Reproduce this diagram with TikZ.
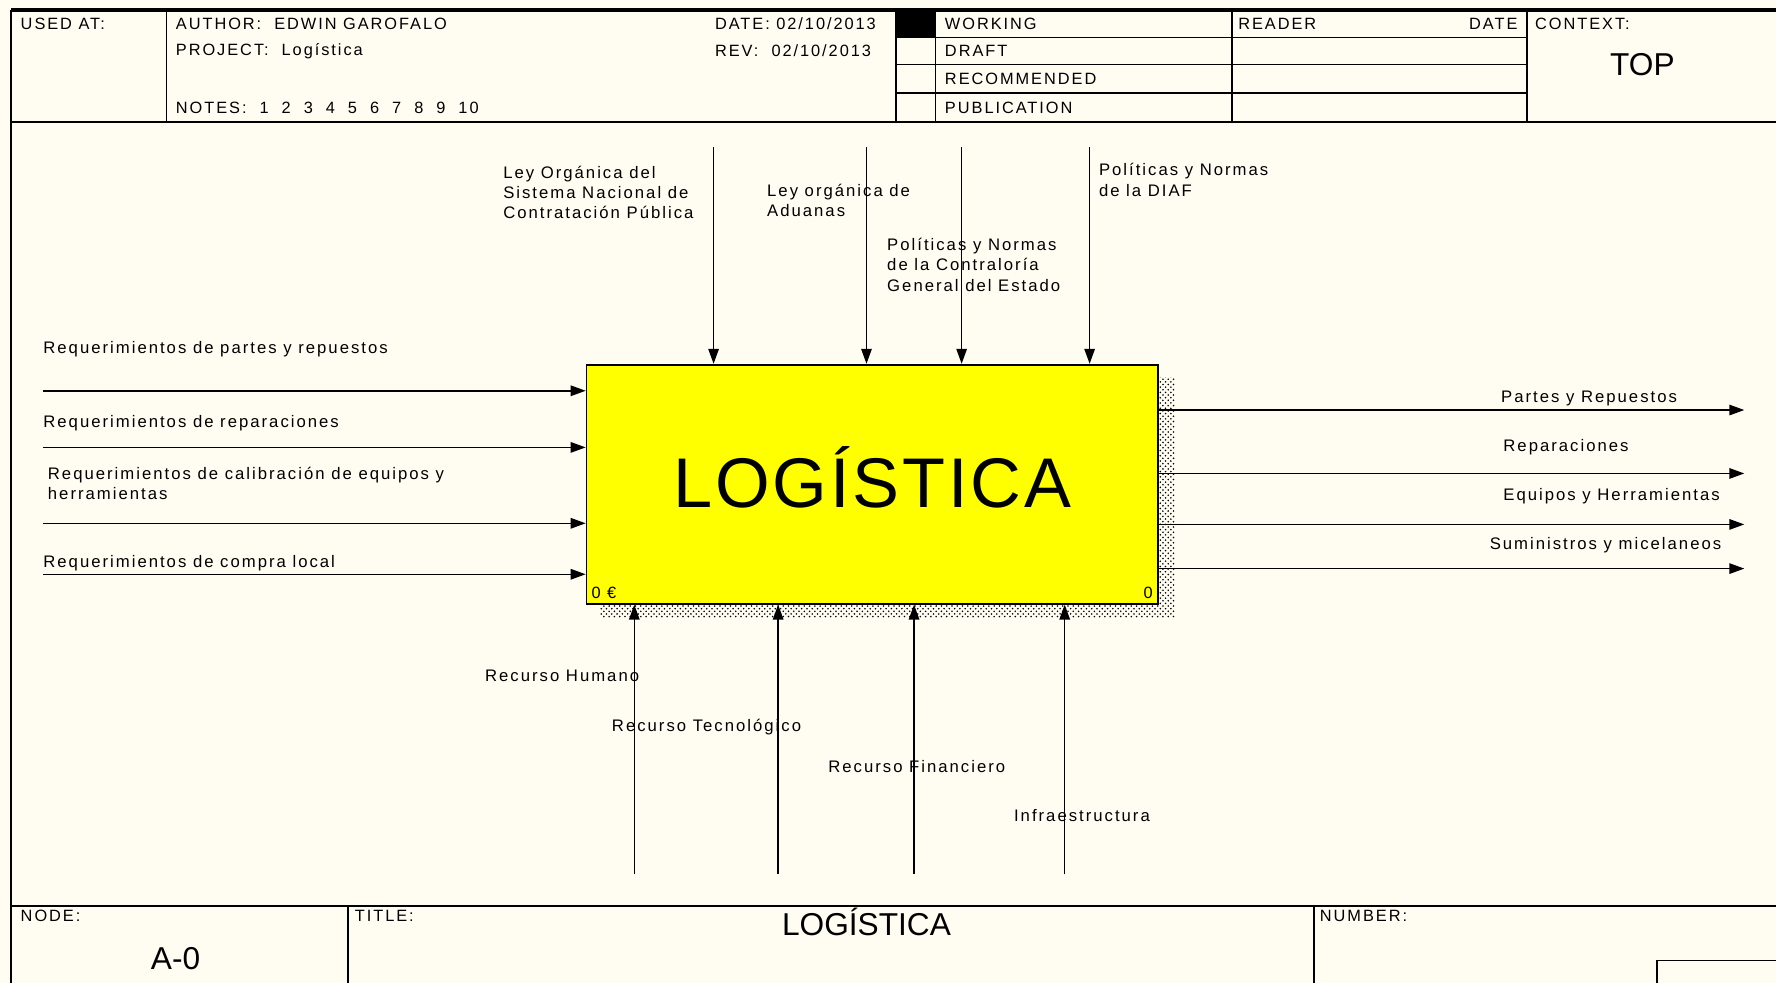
\documentclass[tikz,border=0pt]{standalone}
\usepackage{fontspec}
\setmainfont{Liberation Sans}
\newfontfamily\idefsans{Liberation Sans}[LetterSpace=12]
\newfontfamily\idefbig{Liberation Sans}[LetterSpace=4]
\usetikzlibrary{arrows.meta,patterns}

\definecolor{sheetcream}{RGB}{255,252,242}
\definecolor{boxyellow}{RGB}{255,255,0}

\tikzset{
  flow/.style={line width=0.85pt, -{Triangle[length=3mm,width=2.1mm]}},
  frame/.style={line width=1pt},
  lbl/.style={font=\idefsans\fontsize{9.5}{11.6}\selectfont, inner sep=0pt, align=left},
  hdr/.style={font=\idefsans\fontsize{9.3}{10}\selectfont, inner sep=0pt, anchor=west},
  big/.style={font=\fontsize{18}{20}\selectfont, inner sep=0pt},
  procbox/.style={draw, line width=1pt, fill=boxyellow, minimum width=11.42cm,
    minimum height=4.78cm, font=\idefbig\fontsize{40}{42}\selectfont},
}

\begin{document}
\begin{tikzpicture}[x=0.02265cm, y=-0.02265cm]
\fill[sheetcream] (0,0) rectangle (1568,868);
\useasboundingbox (0,0) rectangle (1568,868);

% sheet frame and header
\draw[frame] (10,868) -- (10,9);
\draw[line width=2pt] (10,9) -- (1568,9);
\draw[frame] (10,108) -- (1568,108);
\foreach \x in {147,791,826,1088,1348}
  \draw[frame] (\x,9) -- (\x,108);
\foreach \y in {33,57,82}
  \draw[frame] (791,\y) -- (1348,\y);
\fill (791,9) rectangle (826,33);

\node[hdr] (usedat) at (18,21) {USED AT:};
\node[hdr] (author) at (155,21) {AUTHOR:\ \ EDWIN GAROFALO};
\node[hdr] (project) at (155,45) {PROJECT:\ \ Logística};
\node[hdr] (notes) at (155,95) {NOTES:\ \ 1\ \ 2\ \ 3\ \ 4\ \ 5\ \ 6\ \ 7\ \ 8\ \ 9\ \ 10};
\node[hdr] (date) at (631,21) {DATE: 02/10/2013};
\node[hdr] (rev) at (631,45) {REV:\ \ 02/10/2013};
\node[hdr] (working) at (834,21) {WORKING};
\node[hdr] (draft) at (834,45) {DRAFT};
\node[hdr] (recommended) at (834,70) {RECOMMENDED};
\node[hdr] (publication) at (834,95) {PUBLICATION};
\node[hdr] (reader) at (1093,21) {READER};
\node[hdr, anchor=east] (readerdate) at (1340,21) {DATE};
\node[hdr] (context) at (1355,21) {CONTEXT:};
\node[big] (context top) at (1450,57) {TOP};

% activity box with its shadow
\fill[pattern=crosshatch dots, pattern color=black] (530,333) rectangle (1037,545);
\node[procbox] (proc) at (770,427.5) {\raisebox{8pt}{LOGÍSTICA}};
\node[hdr, anchor=south west] (cost) at ([shift={(5,-5)}]proc.south west) {0 €};
\node[hdr, anchor=south east] (boxnum) at ([shift={(-5,-5)}]proc.south east) {0};

% inputs
\foreach \n/\y in {1/345, 2/395, 3/462, 4/507}
  \coordinate (in\n) at (38,\y);
\foreach \n in {1,...,4}
  \draw[flow] (in\n) -- (in\n -| proc.west);
\node[lbl, anchor=west] (inlbl1) at (38,308) {Requerimientos de partes y repuestos};
\node[lbl, anchor=west] (inlbl2) at (38,374) {Requerimientos de reparaciones};
\node[lbl, anchor=north west] (inlbl3) at (42,412) {Requerimientos de calibración de equipos y\\herramientas};
\node[lbl, anchor=west] (inlbl4) at (38,497) {Requerimientos de compra local};

% outputs
\foreach \n/\y in {1/362, 2/418, 3/463, 4/502}
  \coordinate (out\n) at (1540,\y);
\foreach \n in {1,...,4}
  \draw[flow] (out\n -| proc.east) -- (out\n);
\node[lbl, anchor=west] (outlbl1) at (1325,352) {Partes y Repuestos};
\node[lbl, anchor=west] (outlbl2) at (1327,395) {Reparaciones};
\node[lbl, anchor=west] (outlbl3) at (1327,438) {Equipos y Herramientas};
\node[lbl, anchor=west] (outlbl4) at (1315,481) {Suministros y micelaneos};

% controls
\foreach \n/\x in {1/630, 2/765, 3/849, 4/962}
  \coordinate (ctl\n) at (\x,130);
\foreach \n in {1,...,4}
  \draw[flow] (ctl\n) -- (ctl\n |- proc.north);
\node[lbl, anchor=north west] (ctllbl1) at (444,146) {Ley Orgánica del\\Sistema Nacional de\\Contratación Pública};
\node[lbl, anchor=north west] (ctllbl2) at (677,162) {Ley orgánica de\\Aduanas};
\node[lbl, anchor=north west] (ctllbl3) at (783,210) {Políticas y Normas\\de la Contraloría\\General del Estado};
\node[lbl, anchor=north west] (ctllbl4) at (970,144) {Políticas y Normas\\de la DIAF};

% mechanisms
\foreach \n/\x in {1/560, 2/687, 3/807, 4/940}
  \coordinate (mech\n) at (\x,772);
\foreach \n in {1,...,4}
  \draw[flow] (mech\n) -- (mech\n |- proc.south);
\node[lbl, anchor=west] (mechlbl1) at (428,597) {Recurso Humano};
\node[lbl, anchor=west] (mechlbl2) at (540,642) {Recurso Tecnológico};
\node[lbl, anchor=west] (mechlbl3) at (731,677) {Recurso Financiero};
\node[lbl, anchor=west] (mechlbl4) at (895,720) {Infraestructura};

% footer
\draw[frame] (10,800) -- (1568,800);
\draw[frame] (307,800) -- (307,868);
\draw[frame] (1160,800) -- (1160,868);
\draw[frame] (1463,868) -- (1463,848) -- (1568,848);
\node[hdr] (nodelbl) at (18,809) {NODE:};
\node[big] (nodenum) at (155,846) {A-0};
\node[hdr] (titlelbl) at (313,809) {TITLE:};
\node[big] (title) at (765,814) {LOGÍSTICA};
\node[hdr] (numberlbl) at (1165,809) {NUMBER:};
\end{tikzpicture}
\end{document}
